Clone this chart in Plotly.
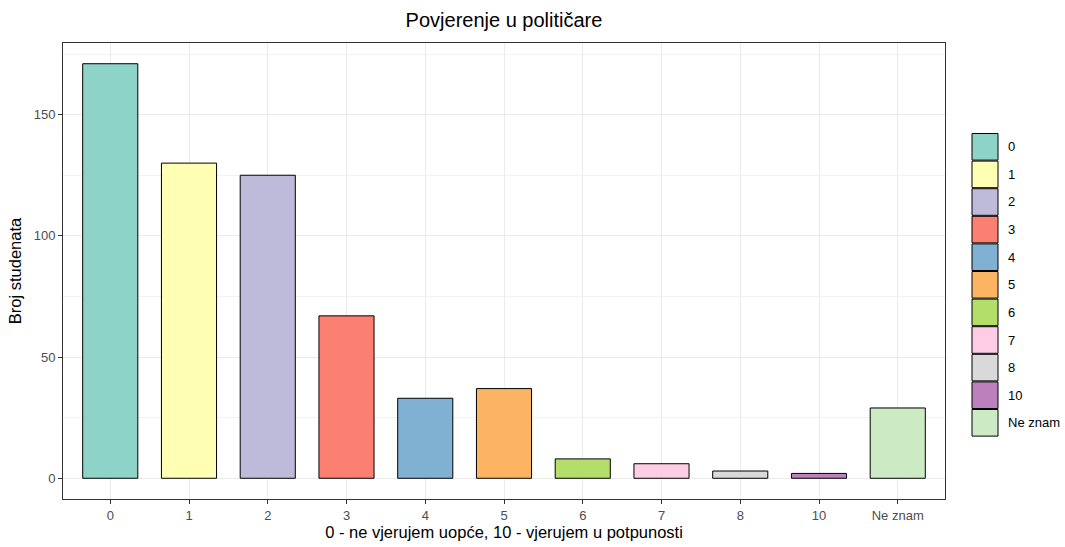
import plotly.graph_objects as go

categories = ["0", "1", "2", "3", "4", "5", "6", "7", "8", "10", "Ne znam"]
counts = [171, 130, 125, 67, 33, 37, 8, 6, 3, 2, 29]
colors = ["#8DD3C7", "#FFFFB3", "#BEBADA", "#FB8072", "#80B1D3", "#FDB462",
          "#B3DE69", "#FCCDE5", "#D9D9D9", "#BC80BD", "#CCEBC5"]
y_ticks = [0, 50, 100, 150]

FONT = "Liberation Sans, Arial, sans-serif"

W, H = 1065, 547
ml, mr, mt, mb = 63, 120, 43, 48
pw, ph = W - ml - mr, H - mt - mb


def px(x):
    return (x - ml) / pw


def py(y):
    return 1 - (y - mt) / ph


fig = go.Figure()
fig.add_trace(go.Bar(
    x=list(range(len(categories))), y=counts, width=0.7,
    marker=dict(color=colors, line=dict(color="black", width=1)),
    showlegend=False, hoverinfo="skip",
))

# custom legend (ggplot style keys)
key_h = 27.6
top0 = 133
shapes = []
annotations = []
for i, (cat, col) in enumerate(zip(categories, colors)):
    y0 = top0 + i * key_h
    y1 = y0 + key_h
    shapes.append(dict(type="rect", xref="paper", yref="paper",
                       x0=px(972), x1=px(998), y0=py(y1 - 0.5), y1=py(y0 + 0.5),
                       fillcolor=col, line=dict(color="black", width=1)))
    annotations.append(dict(xref="paper", yref="paper", x=px(1006), y=py((y0 + y1) / 2),
                            text=cat, showarrow=False, xanchor="left", yanchor="middle",
                            font=dict(family=FONT, size=13, color="black")))

fig.update_layout(
    width=W, height=H,
    margin=dict(l=ml, r=mr, t=mt, b=mb, autoexpand=False),
    paper_bgcolor="white", plot_bgcolor="white",
    title=dict(text="Povjerenje u političare", x=px(504), xref="paper", xanchor="center",
               y=1 - 20 / H, yanchor="middle",
               font=dict(family=FONT, size=20, color="black")),
    font=dict(family=FONT),
    shapes=shapes, annotations=annotations,
    xaxis=dict(
        tickmode="array", tickvals=list(range(len(categories))), ticktext=categories,
        range=[-0.6, len(categories) - 0.4],
        showgrid=True, gridcolor="#EBEBEB", gridwidth=1,
        ticks="outside", ticklen=4, tickcolor="#333333",
        tickfont=dict(family=FONT, size=13, color="#4D4D4D"),
        showline=True, linecolor="#333333", mirror=True, linewidth=1,
        zeroline=False,
        title=dict(text="0 - ne vjerujem uopće, 10 - vjerujem u potpunosti",
                   font=dict(family=FONT, size=16.5, color="black"), standoff=3),
    ),
    yaxis=dict(
        tickmode="array", tickvals=y_ticks, ticktext=[str(v) for v in y_ticks],
        range=[-0.05 * max(counts), 1.05 * max(counts)],
        showgrid=True, gridcolor="#EBEBEB", gridwidth=1,
        minor=dict(tickmode="array", tickvals=[25, 75, 125, 175], showgrid=True,
                   gridcolor="#F2F2F2", gridwidth=0.6, ticks=""),
        ticks="outside", ticklen=4, tickcolor="#333333",
        tickfont=dict(family=FONT, size=13, color="#4D4D4D"),
        showline=True, linecolor="#333333", mirror=True, linewidth=1,
        zeroline=False,
        title=dict(text="Broj studenata", font=dict(family=FONT, size=16.5, color="black"),
                   standoff=7),
    ),
)

fig.write_html("out.html",
               config={"displayModeBar": False},
               post_script="document.body.style.margin='0px';document.body.style.overflow='hidden';")
